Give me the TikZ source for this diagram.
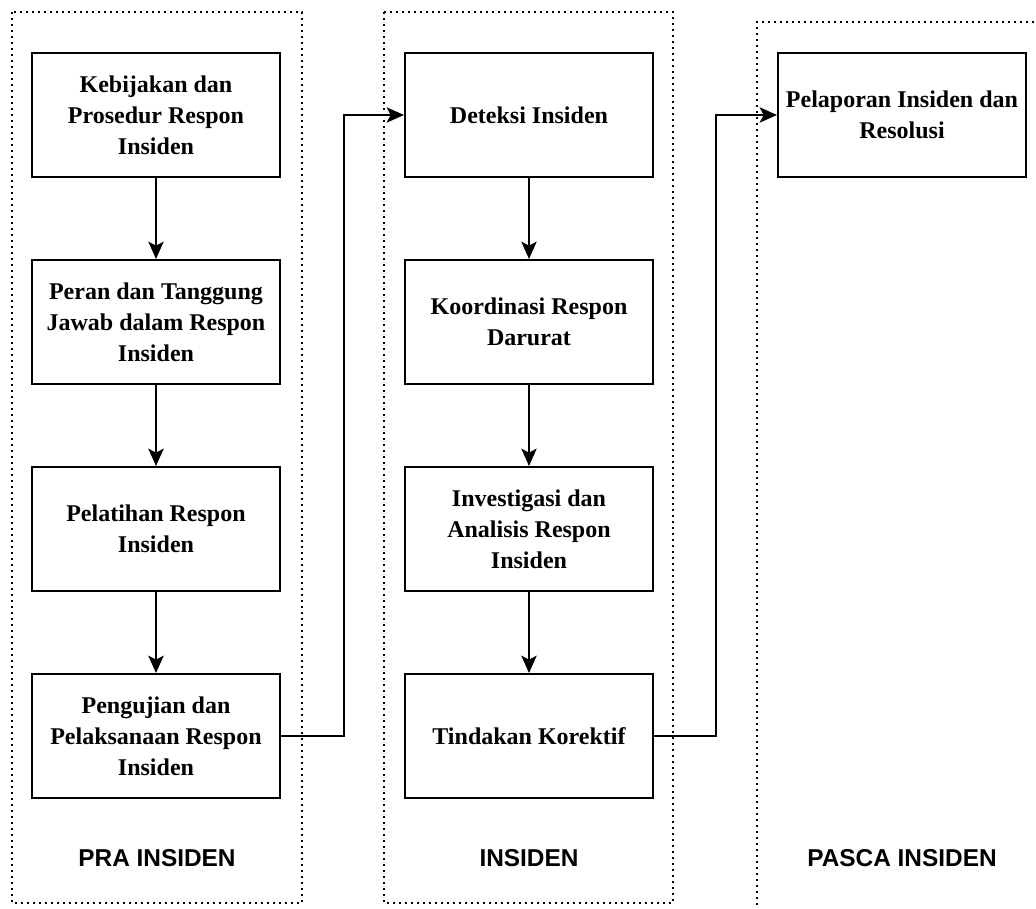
\documentclass[tikz,border=0pt]{standalone}
\usepackage{fontspec}
\setmainfont{Liberation Serif}
\newfontfamily\phasefont{Liberation Sans}
\usepackage{tikz}
\usetikzlibrary{arrows.meta, positioning}

\begin{document}
\begin{tikzpicture}[
            x=0.75pt, y=-0.75pt,
            box/.style={
                draw, line width=1.5pt,
                minimum width=186pt, minimum height=93pt,
                inner sep=2pt, align=center,
                font=\bfseries\fontsize{18pt}{23.25pt}\selectfont
            },
            flow/.style={
                line width=1.4pt,
                -{Stealth[length=13pt, width=11.5pt, inset=3pt]}
            },
            zone/.style={
                line width=1.5pt, dash pattern=on 1.5pt off 3pt
            },
            phase/.style={
                font=\phasefont\bfseries\fontsize{18.3pt}{22pt}\selectfont
            },
            node distance=60.75pt
        ]
        \useasboundingbox (0,0) rectangle (1036,908);

        % the three phases
        \draw[zone] (12,12) rectangle (302,903);
        \draw[zone] (384,12) rectangle (673,903);
        \draw[zone] (757,905) -- (757,22) -- (1036,22);

        \node[phase] (pra) at (157,858) {PRA INSIDEN};
        \node[phase] (insiden) at (529,858) {INSIDEN};
        \node[phase] (pasca) at (902,858) {PASCA INSIDEN};

        % pra insiden
        \node[box] (kebijakan) at (156,115) {Kebijakan dan\\Prosedur Respon\\Insiden};
        \node[box, below=of kebijakan] (peran) {Peran dan Tanggung\\Jawab dalam Respon\\Insiden};
        \node[box, below=of peran] (pelatihan) {Pelatihan Respon\\Insiden};
        \node[box, below=of pelatihan] (pengujian) {Pengujian dan\\Pelaksanaan Respon\\Insiden};

        % insiden
        \node[box] (deteksi) at (529,115) {Deteksi Insiden};
        \node[box, below=of deteksi] (koordinasi) {Koordinasi Respon\\Darurat};
        \node[box, below=of koordinasi] (investigasi) {Investigasi dan\\Analisis Respon\\Insiden};
        \node[box, below=of investigasi] (tindakan) {Tindakan Korektif};

        % pasca insiden
        \node[box] (pelaporan) at (902,115) {Pelaporan Insiden dan\\Resolusi};

        \draw[flow] (kebijakan) -- (peran);
        \draw[flow] (peran) -- (pelatihan);
        \draw[flow] (pelatihan) -- (pengujian);
        \draw[flow] (deteksi) -- (koordinasi);
        \draw[flow] (koordinasi) -- (investigasi);
        \draw[flow] (investigasi) -- (tindakan);

        \draw[flow] (pengujian.east) -- ++(63,0) |- (deteksi.west);
        \draw[flow] (tindakan.east) -- ++(62,0) |- (pelaporan.west);
    \end{tikzpicture}
\end{document}
